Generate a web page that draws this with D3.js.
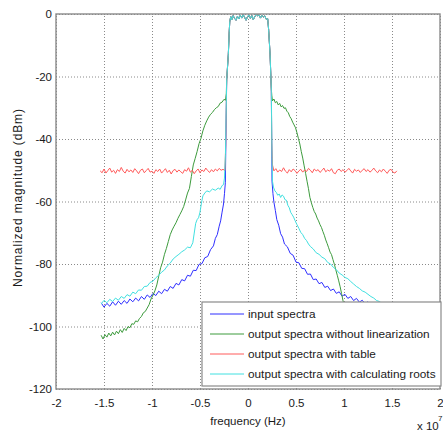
<!DOCTYPE html>
<html>
<head>
<meta charset="utf-8">
<script src="https://cdn.jsdelivr.net/npm/d3@7"></script>
<style>
  body { margin: 0; background: #fff; }
  text { font-family: "Liberation Sans", Arial, sans-serif; }
</style>
</head>
<body>
<div id="chart"></div>
<script>

// frequency in units of 1e7 Hz, magnitude in dBm

var x_ticks = [-2, -1.5, -1, -0.5, 0, 0.5, 1, 1.5, 2];
var y_ticks = [0, -20, -40, -60, -80, -100, -120];

var legend_labels = [
	"input spectra",
	"output spectra without linearization",
	"output spectra with table",
	"output spectra with calculating roots"
];

// flat top of the band (shared by all four curves)
var passband = [
	[-0.222,-21],[-0.205,-13],[-0.196,-6],[-0.19,-2.5],[-0.18,-0.8],[-0.17,-1.9],[-0.155,-0.5],
	[-0.14,-1.4],[-0.125,-2.0],[-0.11,-0.7],[-0.095,-1.6],[-0.08,-0.4],[-0.065,-1.3],[-0.05,-0.2],
	[-0.035,-1.1],[-0.02,-2.0],[-0.005,-0.8],[0.01,-0.3],[0.025,-1.4],[0.04,-0.5],[0.055,-1.8],
	[0.07,-0.9],[0.085,-0.1],[0.1,-0.6],[0.115,-0.2],[0.13,-1.3],[0.145,-0.4],[0.16,-1.0],
	[0.175,-0.6],[0.19,-1.7],[0.205,-1.5],[0.215,-5],[0.23,-13],[0.243,-24]
];

var input_left = [
	[-1.53,-92.4],[-1.50,-93.8],[-1.47,-92.6],[-1.44,-93.5],[-1.41,-92.1],[-1.38,-93.2],[-1.35,-91.9],
	[-1.32,-92.9],[-1.29,-91.7],[-1.26,-92.6],[-1.23,-91.2],[-1.20,-92.1],[-1.17,-90.9],[-1.14,-91.8],
	[-1.11,-90.4],[-1.08,-91.3],[-1.05,-89.9],[-1.02,-90.7],[-0.99,-89.4],[-0.96,-90.1],[-0.93,-88.7],
	[-0.90,-89.5],[-0.87,-88.1],[-0.84,-88.7],[-0.81,-87.2],[-0.78,-87.8],[-0.75,-86.2],[-0.72,-86.7],
	[-0.69,-85.0],[-0.66,-85.4],[-0.63,-83.6],[-0.60,-83.9],[-0.57,-82.0],[-0.54,-82.1],[-0.51,-80.1],
	[-0.48,-79.9],[-0.45,-78.0],[-0.42,-77.6],[-0.39,-75.4],[-0.36,-74.2],[-0.34,-71.8],[-0.32,-70.6],
	[-0.30,-67.9],[-0.285,-66.2],[-0.27,-63.4],[-0.255,-60.8],[-0.245,-57.5],[-0.236,-54.0]
];
var input_right = [
	[0.25,-53.5],[0.26,-57.5],[0.27,-60.2],[0.285,-62.9],[0.30,-65.8],[0.32,-67.6],[0.34,-70.3],
	[0.36,-71.4],[0.38,-73.6],[0.41,-74.5],[0.44,-76.6],[0.47,-77.2],[0.50,-79.4],[0.53,-79.6],
	[0.56,-81.4],[0.59,-81.5],[0.62,-83.3],[0.65,-83.2],[0.68,-85.0],[0.71,-84.8],[0.74,-86.3],
	[0.77,-85.9],[0.80,-87.5],[0.83,-87.1],[0.86,-88.5],[0.89,-88.0],[0.92,-89.4],[0.95,-88.9],
	[0.98,-90.3],[1.01,-89.7],[1.04,-91.0],[1.07,-90.4],[1.10,-91.7],[1.13,-91.0],[1.16,-92.2],
	[1.19,-91.6],[1.22,-92.7],[1.25,-92.1],[1.28,-93.1],[1.31,-92.6],[1.34,-93.5],[1.37,-92.9],
	[1.40,-93.8],[1.43,-93.2],[1.46,-94.1],[1.49,-93.5],[1.52,-94.2]
];

var nolin_left = [
	[-1.53,-102.8],[-1.51,-104.0],[-1.49,-102.6],[-1.47,-103.4],[-1.45,-102.1],[-1.43,-103.0],
	[-1.41,-101.8],[-1.39,-102.7],[-1.37,-101.5],[-1.35,-102.3],[-1.33,-101.0],[-1.31,-101.9],
	[-1.29,-100.6],[-1.27,-101.3],[-1.25,-100.0],[-1.23,-100.4],[-1.21,-99.1],[-1.19,-99.3],
	[-1.17,-98.2],[-1.15,-98.5],[-1.13,-97.4],[-1.11,-96.8],[-1.09,-95.6],[-1.07,-95.2],[-1.05,-94.1],
	[-1.03,-93.0],[-1.01,-91.2],[-0.99,-90.0],[-0.97,-88.6],[-0.95,-86.7],[-0.93,-83.9],[-0.91,-81.2],
	[-0.89,-79.4],[-0.87,-76.9],[-0.85,-75.0],[-0.83,-72.8],[-0.81,-70.6],[-0.79,-69.1],[-0.77,-67.9],
	[-0.75,-66.8],[-0.73,-65.4],[-0.71,-64.2],[-0.69,-63.0],[-0.67,-61.6],[-0.65,-59.5],[-0.63,-57.3],
	[-0.61,-55.8],[-0.59,-52.0],[-0.57,-48.3],[-0.55,-46.2],[-0.53,-44.0],[-0.51,-41.5],[-0.49,-39.8],
	[-0.47,-37.4],[-0.45,-35.6],[-0.43,-34.2],[-0.41,-33.0],[-0.39,-32.1],[-0.37,-31.5],[-0.35,-30.6],
	[-0.33,-30.0],[-0.31,-29.6],[-0.29,-28.5],[-0.27,-28.2],[-0.25,-27.3],[-0.235,-27.6],[-0.226,-25.5]
];
var nolin_right = [
	[0.248,-26.0],[0.255,-27.8],[0.27,-27.2],[0.285,-28.4],[0.30,-28.0],[0.315,-29.1],[0.33,-28.6],
	[0.345,-29.7],[0.36,-29.3],[0.375,-30.2],[0.39,-30.0],[0.405,-31.1],[0.42,-31.6],[0.435,-32.8],
	[0.45,-33.5],[0.465,-34.6],[0.48,-35.5],[0.495,-36.4],[0.51,-38.0],[0.525,-39.8],[0.54,-41.6],
	[0.555,-44.0],[0.57,-46.1],[0.585,-48.6],[0.60,-51.0],[0.615,-53.5],[0.63,-55.9],[0.645,-58.7],
	[0.66,-60.4],[0.675,-61.9],[0.69,-63.2],[0.705,-64.0],[0.72,-65.3],[0.735,-66.2],[0.75,-67.4],
	[0.765,-68.3],[0.78,-69.6],[0.795,-70.8],[0.81,-72.3],[0.825,-73.5],[0.84,-74.8],[0.855,-76.2],
	[0.87,-77.0],[0.885,-78.6],[0.90,-80.1],[0.915,-81.9],[0.93,-83.6],[0.945,-85.4],[0.96,-87.3],
	[0.975,-89.5],[0.99,-91.8],[1.01,-94.0],[1.05,-96.5],[1.1,-98.2],[1.2,-100.1],[1.3,-101.5],
	[1.4,-102.6],[1.52,-103.5]
];

var table_left = [
	[-1.54,-50.2],[-1.52,-50.8],[-1.50,-49.6],[-1.48,-50.9],[-1.46,-50.1],[-1.44,-49.3],[-1.42,-50.6],
	[-1.40,-50.0],[-1.38,-51.0],[-1.36,-49.8],[-1.34,-50.4],[-1.32,-49.1],[-1.30,-50.3],[-1.28,-50.9],
	[-1.26,-49.7],[-1.24,-50.5],[-1.22,-49.9],[-1.20,-50.7],[-1.18,-49.5],[-1.16,-50.2],[-1.14,-51.1],
	[-1.12,-50.0],[-1.10,-49.6],[-1.08,-50.8],[-1.06,-50.1],[-1.04,-49.4],[-1.02,-50.6],[-1.00,-50.3],
	[-0.98,-51.0],[-0.96,-49.8],[-0.94,-50.4],[-0.92,-49.6],[-0.90,-50.9],[-0.88,-50.2],[-0.86,-49.5],
	[-0.84,-50.7],[-0.82,-50.0],[-0.80,-51.2],[-0.78,-50.1],[-0.76,-49.7],[-0.74,-50.6],[-0.72,-49.9],
	[-0.70,-50.5],[-0.68,-51.0],[-0.66,-49.8],[-0.64,-50.3],[-0.62,-49.2],[-0.60,-50.6],[-0.58,-50.0],
	[-0.56,-51.1],[-0.54,-50.2],[-0.52,-49.6],[-0.50,-50.8],[-0.48,-49.9],[-0.46,-50.4],[-0.44,-49.3],
	[-0.42,-50.1],[-0.40,-50.7],[-0.38,-49.8],[-0.36,-50.5],[-0.34,-49.6],[-0.32,-50.2],[-0.30,-49.4],
	[-0.28,-50.0],[-0.26,-49.7],[-0.24,-50.1],[-0.232,-42]
];
var table_right = [
	[0.247,-41],[0.255,-48.3],[0.27,-50.2],[0.29,-49.5],[0.31,-50.6],[0.33,-49.9],[0.35,-50.4],
	[0.37,-49.2],[0.39,-50.3],[0.41,-50.9],[0.43,-49.8],[0.45,-50.5],[0.47,-49.6],[0.49,-50.1],
	[0.51,-51.0],[0.53,-50.2],[0.55,-49.7],[0.57,-50.6],[0.59,-49.9],[0.61,-50.4],[0.63,-49.4],
	[0.65,-50.0],[0.67,-50.8],[0.69,-49.6],[0.71,-50.2],[0.73,-49.8],[0.75,-50.7],[0.77,-50.1],
	[0.79,-49.3],[0.81,-50.5],[0.83,-49.9],[0.85,-50.3],[0.87,-49.5],[0.89,-50.8],[0.91,-51.1],
	[0.93,-50.0],[0.95,-49.6],[0.97,-50.4],[0.99,-49.8],[1.01,-50.6],[1.03,-50.1],[1.05,-49.4],
	[1.07,-50.2],[1.09,-50.9],[1.11,-49.7],[1.13,-50.3],[1.15,-49.9],[1.17,-50.7],[1.19,-50.0],
	[1.21,-49.5],[1.23,-50.4],[1.25,-49.8],[1.27,-50.6],[1.29,-50.1],[1.31,-49.3],[1.33,-50.2],
	[1.35,-50.8],[1.37,-49.9],[1.39,-50.5],[1.41,-49.6],[1.43,-50.3],[1.45,-51.0],[1.47,-50.0],
	[1.49,-49.7],[1.51,-50.6],[1.53,-50.9],[1.55,-50.2]
];

var roots_left = [
	[-1.53,-92.8],[-1.50,-91.6],[-1.47,-92.4],[-1.44,-91.3],[-1.41,-92.0],[-1.38,-90.9],[-1.35,-91.6],
	[-1.32,-90.4],[-1.29,-91.0],[-1.26,-89.8],[-1.23,-90.3],[-1.20,-89.0],[-1.17,-89.5],[-1.14,-88.3],
	[-1.11,-88.4],[-1.08,-87.2],[-1.05,-87.1],[-1.02,-85.9],[-0.99,-85.5],[-0.96,-84.4],[-0.93,-83.6],
	[-0.90,-82.6],[-0.87,-81.9],[-0.84,-80.6],[-0.81,-79.7],[-0.78,-78.4],[-0.75,-77.6],[-0.72,-76.9],
	[-0.69,-76.1],[-0.66,-75.5],[-0.63,-74.6],[-0.60,-74.8],[-0.575,-73.2],[-0.56,-70.1],[-0.545,-67.0],
	[-0.53,-65.8],[-0.515,-65.2],[-0.50,-63.4],[-0.485,-60.5],[-0.47,-58.2],[-0.45,-57.3],[-0.43,-56.6],
	[-0.40,-56.9],[-0.37,-56.0],[-0.34,-56.4],[-0.31,-55.7],[-0.29,-56.1],[-0.27,-54.9],[-0.255,-54.6],
	[-0.245,-52.5],[-0.235,-45]
];
var roots_right = [
	[0.25,-46],[0.255,-53.5],[0.265,-55.4],[0.28,-56.6],[0.295,-57.1],[0.31,-58.0],[0.325,-57.6],
	[0.34,-58.7],[0.355,-57.9],[0.37,-58.3],[0.385,-59.4],[0.40,-59.6],[0.415,-61.2],[0.43,-62.0],
	[0.445,-63.5],[0.46,-64.2],[0.475,-65.0],[0.49,-66.1],[0.51,-67.4],[0.53,-68.6],[0.55,-69.9],
	[0.57,-70.6],[0.59,-71.8],[0.61,-72.5],[0.63,-73.6],[0.65,-74.4],[0.68,-75.2],[0.71,-76.4],
	[0.74,-76.9],[0.77,-77.8],[0.80,-78.3],[0.83,-79.5],[0.86,-80.0],[0.89,-81.1],[0.92,-81.8],
	[0.95,-82.9],[0.98,-83.5],[1.01,-84.3],[1.04,-84.7],[1.07,-85.6],[1.10,-86.4],[1.13,-87.2],
	[1.16,-87.8],[1.19,-88.6],[1.22,-89.0],[1.25,-89.7],[1.28,-90.4],[1.31,-90.9],[1.34,-91.7],
	[1.37,-92.0],[1.40,-92.8],[1.43,-93.1],[1.46,-93.7],[1.49,-93.9],[1.52,-94.4]
];

var series_colors = ["#2f2fff", "#3d9b3d", "#ff5a5a", "#40e0e0"];

// --------------------------------------------------------

var chart_width  = 443;
var chart_height = 434;
// note: can't call it "top", that's window.top
var plot_left   = 56,
    plot_right  = 440,
    plot_top    = 14,
    plot_bottom = 389;

var font_size = "11.5px";

var svg = d3.select("#chart")
	.append("svg")
	.attr("width", chart_width)
	.attr("height", chart_height);

var x_scale = d3.scaleLinear().domain([-2, 2]).range([plot_left, plot_right]);
var y_scale = d3.scaleLinear().domain([-120, 0]).range([plot_bottom, plot_top]);

// --------------------------------------------------------
// axes with dotted grid lines

var x_axis = d3.axisBottom(x_scale)
	.tickValues(x_ticks)
	.tickSize(-(plot_bottom - plot_top))
	.tickPadding(10)
	.tickFormat(d => String(d));

var y_axis = d3.axisLeft(y_scale)
	.tickValues(y_ticks)
	.tickSize(-(plot_right - plot_left))
	.tickPadding(4)
	.tickFormat(d => String(d));

var gx = svg.append("g")
	.attr("transform", "translate(0," + plot_bottom + ")")
	.call(x_axis);
var gy = svg.append("g")
	.attr("transform", "translate(" + plot_left + ",0)")
	.call(y_axis);

[gx, gy].forEach(g => {
	g.select(".domain").remove();
	g.selectAll(".tick line")
		.attr("stroke", "#8a8a8a")
		.attr("stroke-dasharray", "1,2");
	g.selectAll(".tick text")
		.attr("fill", "#1a1a1a")
		.style("font-family", "'Liberation Sans', Arial, sans-serif")
		.style("font-size", font_size);
});

// --------------------------------------------------------
// the curves

var line = d3.line()
	.x(d => x_scale(d[0]))
	.y(d => y_scale(d[1]));

var curves = [
	input_left.concat(passband, input_right),
	nolin_left.concat(passband, nolin_right),
	table_left.concat(passband, table_right),
	roots_left.concat(passband, roots_right)
];

svg.append("g")
	.selectAll("path")
	.data(curves)
	.enter()
	.append("path")
	.attr("d", line)
	.attr("fill", "none")
	.attr("stroke", (d, i) => series_colors[i])
	.attr("stroke-width", 1);

// frame
svg.append("rect")
	.attr("x", plot_left)
	.attr("y", plot_top)
	.attr("width", plot_right - plot_left)
	.attr("height", plot_bottom - plot_top)
	.attr("fill", "none")
	.attr("stroke", "#8a8a8a")
	.attr("stroke-width", 1.4);

// --------------------------------------------------------
// legend

var legend = svg.append("g");
legend.append("rect")
	.attr("x", 202).attr("y", 302)
	.attr("width", 239).attr("height", 84)
	.attr("fill", "#fff")
	.attr("stroke", "#8a8a8a")
	.attr("stroke-width", 1.2);

var rows = legend.selectAll(".row")
	.data(legend_labels)
	.enter()
	.append("g")
	.attr("transform", (d, i) => "translate(0," + (314 + i * 20) + ")");

rows.append("line")
	.attr("x1", 210).attr("x2", 244)
	.attr("stroke", (d, i) => series_colors[i])
	.attr("stroke-width", 1);

rows.append("text")
	.attr("x", 248)
	.attr("y", 4)
	.attr("fill", "#1a1a1a")
	.style("font-size", "11.8px")
	.text(d => d);

// --------------------------------------------------------
// labels

svg.append("text")
	.attr("x", 248).attr("y", 425)
	.attr("text-anchor", "middle")
	.attr("fill", "#1a1a1a")
	.style("font-size", font_size)
	.text("frequency (Hz)");

svg.append("text")
	.attr("x", 417).attr("y", 430)
	.attr("fill", "#1a1a1a")
	.style("font-size", font_size)
	.text("x 10");
svg.append("text")
	.attr("x", 438).attr("y", 421)
	.attr("fill", "#1a1a1a")
	.style("font-size", "8px")
	.text("7");

svg.append("text")
	.attr("transform", "translate(22,198) rotate(-90)")
	.attr("text-anchor", "middle")
	.attr("fill", "#1a1a1a")
	.style("font-size", "12px")
	.attr("textLength", 178)
	.attr("lengthAdjust", "spacing")
	.text("Normalized magnitude (dBm)");

</script>
</body>
</html>
